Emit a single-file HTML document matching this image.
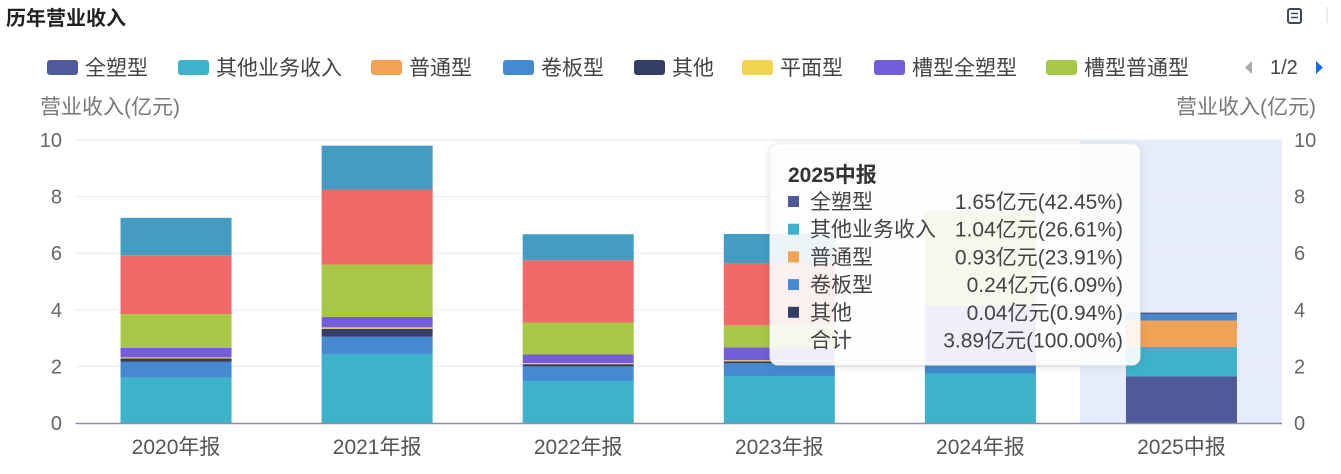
<!DOCTYPE html>
<html><head><meta charset="utf-8">
<style>
html,body{margin:0;padding:0;background:#fff;}
body{width:1341px;height:469px;overflow:hidden;font-family:"Liberation Sans","Noto Sans CJK SC",sans-serif;position:relative;}
svg text{font-family:"Liberation Sans","Noto Sans CJK SC",sans-serif;}
</style></head>
<body>
<svg id="chart" width="1341" height="469">
  <text x="6" y="25" font-size="20" font-weight="bold" fill="#222">历年营业收入</text>
  <g>
    <rect x="1288" y="9" width="13" height="14" rx="2" fill="none" stroke="#3d4466" stroke-width="2"/>
    <line x1="1291" y1="13.5" x2="1298" y2="13.5" stroke="#3d4466" stroke-width="1.5"/>
    <line x1="1291" y1="17.5" x2="1298" y2="17.5" stroke="#3d4466" stroke-width="1.5"/>
    <line x1="1327" y1="7" x2="1327" y2="23" stroke="#d8d8e0" stroke-width="1"/>
  </g>
  <g id="legend"></g>
  <g>
    <polygon points="1252,61 1252,74 1245,67.5" fill="#aaa"/>
    <text x="1270" y="74" font-size="20" fill="#444">1/2</text>
    <polygon points="1316,61 1316,74 1323,67.5" fill="#1a6fe0"/>
  </g>
  <text x="40" y="114" font-size="21" fill="#777">营业收入(亿元)</text>
  <text x="1316" y="114" font-size="21" fill="#777" text-anchor="end">营业收入(亿元)</text>
  <rect x="1080" y="140" width="202" height="283" fill="#e6ecfb"/>
  <g id="grid"></g>
  <g id="bars"></g>
  <g id="xlabels"></g>
  <g>
    <rect x="770" y="144" width="370" height="221" rx="8" fill="#fff" fill-opacity="0.9" stroke="#eef0f5" style="filter:drop-shadow(0 1px 4px rgba(0,0,0,0.12))"/>
    <text x="788" y="182" font-size="21" font-weight="bold" fill="#333">2025中报</text>
    <g id="tiprows"></g>
  </g>
</svg>
<script>
const categories = ["2020年报","2021年报","2022年报","2023年报","2024年报","2025中报"];
const seriesNames = ["全塑型","其他业务收入","普通型","卷板型","其他","平面型","槽型全塑型","槽型普通型","槽型卷板型","其他型"];
const seriesColors = ["#4e5a9a","#3db3cb","#f1a354","#4589d0","#343d66","#f0d552","#735ddb","#a6c846","#f06868","#449cc2"];
const s0 = [0,0,0,0,0,1.65];
const s1 = [1.60,2.44,1.48,1.66,1.75,1.04];
const s2 = [0,0,0,0,0,0.93];
const s3 = [0.56,0.61,0.52,0.45,0.28,0.24];
const s4 = [0.12,0.28,0.08,0.07,0.08,0.04];
const s5 = [0.04,0.05,0.04,0.04,0.04,0];
const s6 = [0.33,0.37,0.30,0.45,2.00,0];
const s7 = [1.20,1.85,1.13,0.78,3.35,0];
const s8 = [2.08,2.65,2.20,2.20,0,0];
const s9 = [1.32,1.55,0.92,1.03,0,0];
const yTicks = [0,2,4,6,8,10];
const tipNames = ["全塑型","其他业务收入","普通型","卷板型","其他","合计"];
const tipValues = ["1.65亿元(42.45%)","1.04亿元(26.61%)","0.93亿元(23.91%)","0.24亿元(6.09%)","0.04亿元(0.94%)","3.89亿元(100.00%)"];

const NS="http://www.w3.org/2000/svg";
const X0=75.5, X1=1282, Y0=423, Y1=140, YMAX=10;
const band=(X1-X0)/categories.length;
const xc=i=>X0+band*(i+0.5);
const y=v=>Y0-(v/YMAX)*(Y0-Y1);
function mk(tag,attrs,parent){const e=document.createElementNS(NS,tag);for(const k in attrs)e.setAttribute(k,attrs[k]);parent.appendChild(e);return e;}

const lg=document.getElementById('legend');
const lx=[47,178,371,503,634,742,874,1046];
for(let i=0;i<8;i++){
  const g=mk('g',{},lg);
  
  
  mk('rect',{x:lx[i],y:60,width:31,height:15,rx:3,fill:seriesColors[i]},g);
  const t=mk('text',{x:lx[i]+38,y:75,'font-size':21,fill:'#444'},g);t.textContent=seriesNames[i];
}

const grid=document.getElementById('grid');
yTicks.forEach(v=>{
  if(v>0){const l=mk('line',{x1:X0,x2:X1,y1:y(v),y2:y(v),stroke:'#eef0f8','stroke-width':1.5},grid);
  }
  const t=mk('text',{x:62,y:y(v)+7,'font-size':20,fill:'#666','text-anchor':'end'},grid);
  t.textContent=v;
  const t2=mk('text',{x:1294,y:y(v)+7,'font-size':20,fill:'#666'},grid);
  t2.textContent=v;
});

const series=[s0,s1,s2,s3,s4,s5,s6,s7,s8,s9];
const bars=document.getElementById('bars');
const bw=111;
categories.forEach((c,i)=>{
  let acc=0;
  series.forEach((s,k)=>{
    const v=s[i]; if(!v)return;
    const r=mk('rect',{x:xc(i)-bw/2,y:y(acc+v),width:bw,height:y(acc)-y(acc+v),fill:seriesColors[k]},bars);
    
    
    acc+=v;
  });
});
const ax=mk('line',{x1:X0,x2:X1,y1:Y0+0.5,y2:Y0+0.5,stroke:'#8a8fa8','stroke-width':1.5},bars);



const xl=document.getElementById('xlabels');
categories.forEach((c,i)=>{
  const t=mk('text',{x:xc(i),y:454,'font-size':21,fill:'#555','text-anchor':'middle'},xl);
  
  
  t.textContent=c;
});

const tr=document.getElementById('tiprows');
const tipColors=[seriesColors[0],seriesColors[1],seriesColors[2],seriesColors[3],seriesColors[4],null];
tipNames.forEach((n,i)=>{
  const yy=209+i*27.7;
  const g=mk('g',{},tr);
  
  
  if(tipColors[i])mk('rect',{x:788,y:yy-13,width:11,height:11,fill:tipColors[i]},g);
  const a=mk('text',{x:810,y:yy,'font-size':21,fill:'#444'},g);a.textContent=n;
  const b=mk('text',{x:1123,y:yy,'font-size':21,fill:'#444','text-anchor':'end'},g);b.textContent=tipValues[i];
});
</script>
</body></html>
